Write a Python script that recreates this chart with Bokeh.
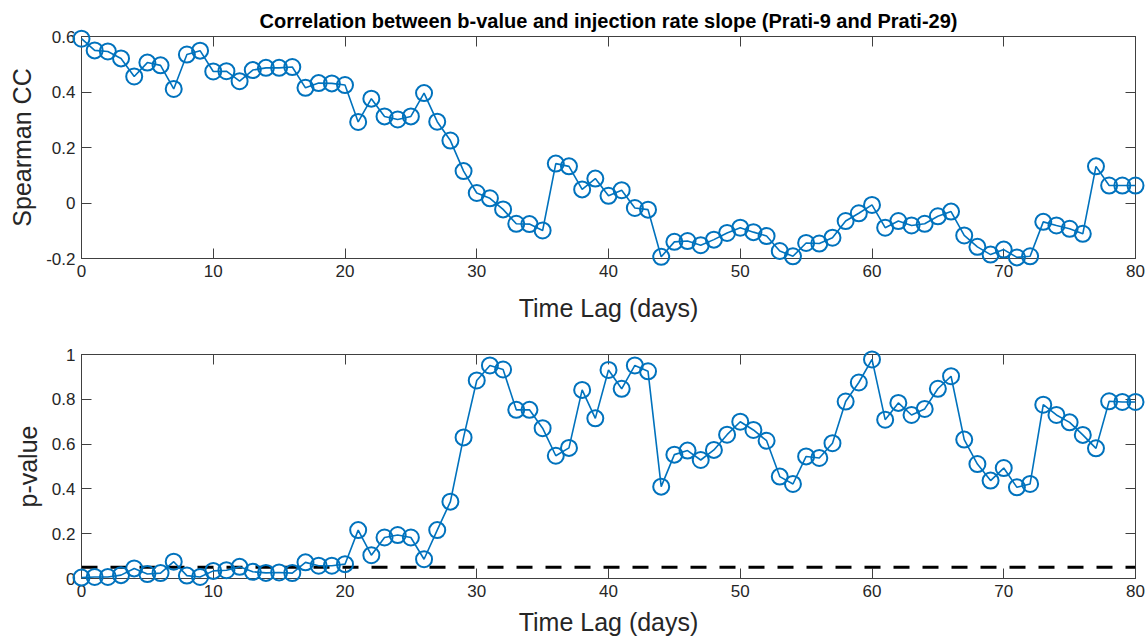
from bokeh.plotting import figure
from bokeh.models import LinearAxis, Range1d, FixedTicker, Span
from bokeh.layouts import column
from bokeh.embed import file_html
from bokeh.resources import INLINE

lag = list(range(81))

spearman_cc = [
    0.592, 0.550, 0.546, 0.521, 0.456, 0.506, 0.496, 0.411, 0.535, 0.549,
    0.474, 0.475, 0.439, 0.479, 0.487, 0.487, 0.490, 0.415, 0.432, 0.431,
    0.425, 0.292, 0.376, 0.312, 0.301, 0.312, 0.396, 0.293, 0.225, 0.115,
    0.036, 0.017, -0.023, -0.075, -0.076, -0.099, 0.142, 0.132, 0.049, 0.088,
    0.026, 0.046, -0.018, -0.024, -0.194, -0.140, -0.137, -0.152, -0.132, -0.108,
    -0.089, -0.105, -0.119, -0.173, -0.192, -0.144, -0.146, -0.125, -0.065, -0.037,
    -0.007, -0.089, -0.065, -0.081, -0.075, -0.048, -0.031, -0.117, -0.158, -0.186,
    -0.168, -0.196, -0.192, -0.068, -0.081, -0.093, -0.111, 0.132, 0.063, 0.063,
    0.063,
]

p_value = [
    0.004, 0.007, 0.007, 0.015, 0.045, 0.020, 0.024, 0.075, 0.013, 0.007,
    0.034, 0.037, 0.052, 0.030, 0.025, 0.027, 0.024, 0.072, 0.057, 0.057,
    0.064, 0.216, 0.104, 0.183, 0.194, 0.183, 0.086, 0.216, 0.343, 0.630,
    0.884, 0.951, 0.933, 0.753, 0.753, 0.671, 0.548, 0.583, 0.842, 0.715,
    0.931, 0.847, 0.951, 0.925, 0.410, 0.553, 0.571, 0.529, 0.574, 0.642,
    0.700, 0.663, 0.615, 0.455, 0.422, 0.545, 0.538, 0.604, 0.790, 0.875,
    0.978, 0.709, 0.784, 0.730, 0.757, 0.847, 0.903, 0.620, 0.511, 0.437,
    0.493, 0.407, 0.422, 0.776, 0.730, 0.697, 0.641, 0.581, 0.791, 0.788,
    0.788,
]

significance_level = 0.05

x_ticks = [0, 10, 20, 30, 40, 50, 60, 70, 80]
cc_ticks = [-0.2, 0, 0.2, 0.4, 0.6]
cc_tick_labels = ["-0.2", "0", "0.2", "0.4", "0.6"]
p_ticks = [0, 0.2, 0.4, 0.6, 0.8, 1.0]
p_tick_labels = ["0", "0.2", "0.4", "0.6", "0.8", "1"]

TITLE = "Correlation between b-value and injection rate slope (Prati-9 and Prati-29)"
BLUE = "#0072BD"
AXC = "#404040"
TXT = "#262626"
FONT = "Liberation Sans"


def style_axis(ax, show_labels):
    ax.axis_line_color = AXC
    ax.major_tick_line_color = AXC
    ax.major_tick_in = 10
    ax.major_tick_out = 0
    ax.minor_tick_line_color = None
    ax.major_label_text_font = FONT
    if show_labels:
        ax.major_label_text_color = TXT
        ax.major_label_text_font_size = "17px"
        ax.major_label_standoff = 6
    else:
        ax.major_label_text_color = None
        ax.major_label_text_font_size = "0px"
        ax.major_label_standoff = 0


def make_fig(y, ylo, yhi, yticks, ylabels, ylabel, height, border_top,
             border_bottom, xlabel_standoff, title=None):
    p = figure(width=1146, height=height, output_backend="svg", toolbar_location=None,
               x_range=Range1d(0, 80), y_range=Range1d(ylo, yhi),
               min_border_left=81, min_border_right=11,
               min_border_top=border_top, min_border_bottom=border_bottom,
               title=title)
    p.xgrid.visible = False
    p.ygrid.visible = False
    p.outline_line_color = AXC
    p.background_fill_color = "white"
    p.border_fill_color = "white"

    p.xaxis.ticker = FixedTicker(ticks=x_ticks)
    p.yaxis.ticker = FixedTicker(ticks=yticks)
    p.yaxis.major_label_overrides = {t: l for t, l in zip(yticks, ylabels)}
    style_axis(p.xaxis[0], True)
    style_axis(p.yaxis[0], True)
    p.xaxis.axis_label = "Time Lag (days)"
    p.yaxis.axis_label = ylabel
    for ax in (p.xaxis[0], p.yaxis[0]):
        ax.axis_label_text_font = FONT
        ax.axis_label_text_font_style = "normal"
        ax.axis_label_text_font_size = "25px"
        ax.axis_label_text_color = TXT
    p.xaxis.axis_label_standoff = xlabel_standoff
    p.yaxis.axis_label_standoff = 7

    top_ax = LinearAxis(ticker=FixedTicker(ticks=x_ticks))
    right_ax = LinearAxis(ticker=FixedTicker(ticks=yticks))
    style_axis(top_ax, False)
    style_axis(right_ax, False)
    p.add_layout(top_ax, "above")
    p.add_layout(right_ax, "right")

    p.line(lag, y, line_color=BLUE, line_width=1.6, level="overlay")
    p.scatter(lag, y, marker="circle", size=16, fill_color=None,
              line_color=BLUE, line_width=2, level="overlay")
    return p


p1 = make_fig(spearman_cc, -0.2, 0.6, cc_ticks, cc_tick_labels, "Spearman CC",
              325, 36, 67, 14, TITLE)
p1.title.align = "center"
p1.title.text_font = FONT
p1.title.text_font_size = "20px"
p1.title.text_font_style = "bold"
p1.title.text_color = "black"
p1.title.offset = 0

p2 = make_fig(p_value, 0, 1, p_ticks, p_tick_labels, "p-value",
              315, 29, 62, 8)
p2.add_layout(Span(location=significance_level, dimension="width",
                   line_color="black", line_width=3, line_dash="16 13"))

layout = column(p1, p2, spacing=0)

with open("out.html", "w") as f:
    f.write(file_html(layout, INLINE))
